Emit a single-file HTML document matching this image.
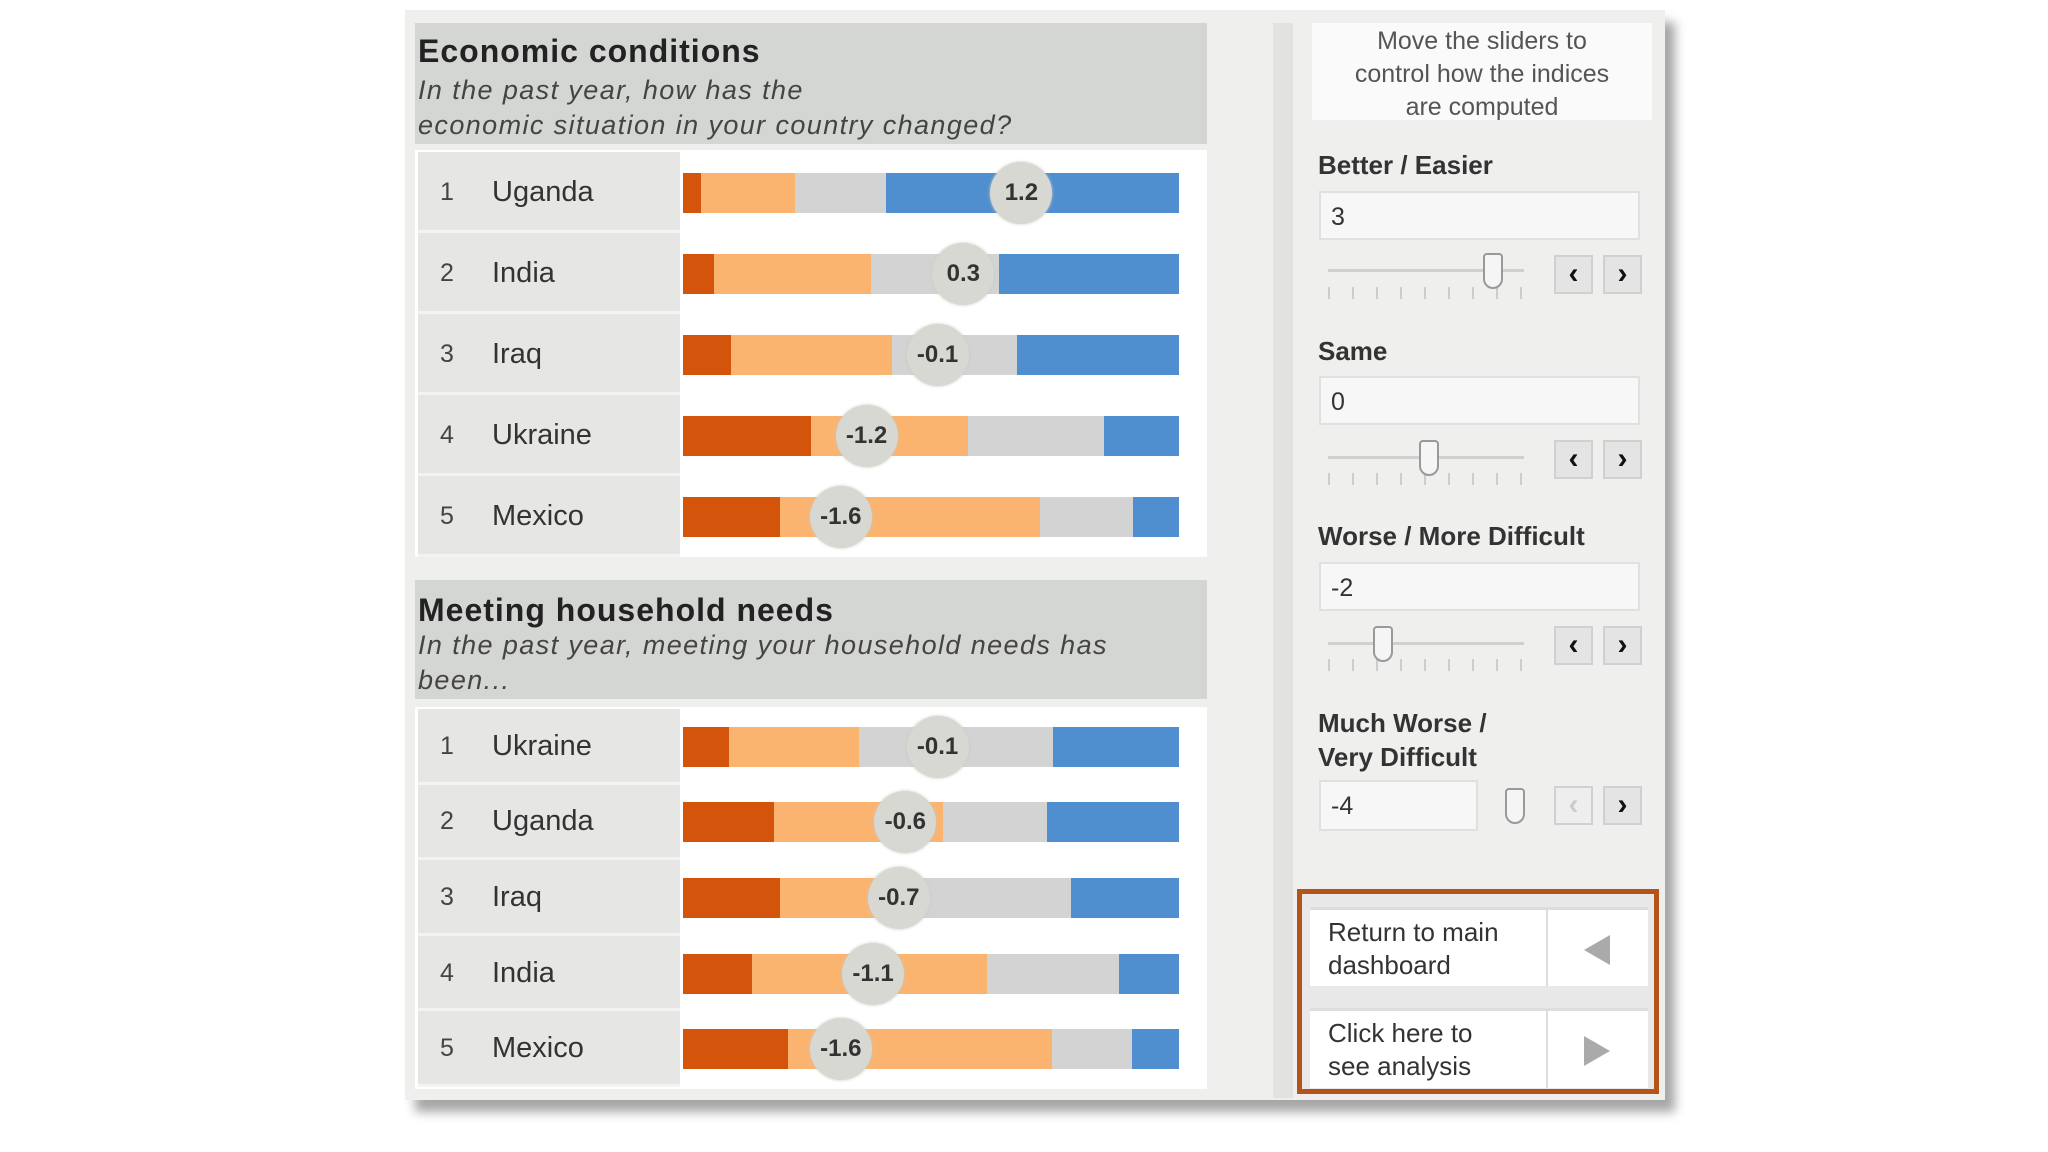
<!DOCTYPE html>
<html><head><meta charset="utf-8"><style>
*{box-sizing:border-box}
body{margin:0;width:2048px;height:1152px;background:#fff;font-family:"Liberation Sans",sans-serif;position:relative;overflow:hidden;color:#333}
.abs{position:absolute}
#panel{left:405px;top:10px;width:1260px;height:1090px;background:#efefee;box-shadow:10px 12px 10px rgba(0,0,0,0.35)}
.hdr{background:#d4d6d3;left:415px;width:792px}
.hdr .t{position:absolute;left:3px;font-weight:bold;font-size:32px;color:#222;letter-spacing:1px}
.hdr .s{position:absolute;left:3px;font-style:italic;font-size:27px;color:#444;line-height:35px;letter-spacing:1.4px}
.rowsbg{background:#fff;left:415px;width:792px}
.lab{left:418px;width:262px;background:#e6e7e4;border-bottom:3px solid #f3f3f2}
.lab .n{position:absolute;left:22px;font-size:25px;color:#444}
.lab .c{position:absolute;left:74px;font-size:29px;color:#333}
.seg{position:absolute}
.circ{position:absolute;width:62px;height:62px;border-radius:50%;background:#d7d8d2;font-weight:bold;font-size:24px;color:#333;text-align:center;line-height:62px;margin-left:-31px;margin-top:-31px;box-shadow:0 0 3px #c8c8c4}
.lbl{position:absolute;left:1318px;font-weight:bold;font-size:26px;color:#333}
.inp{position:absolute;left:1319px;width:321px;height:49px;background:#f7f7f7;border:2px solid #e0e0e0;font-size:25px;padding:10px 10px;color:#333}
.track{position:absolute;left:1328px;width:196px;height:3px;background:#d0d0d0}
.thumb{position:absolute;width:20px;height:36px;border:2px solid #999;border-radius:4px 4px 10px 10px;background:#f5f5f5;margin-left:-10px;margin-top:-18px}
.ticks{position:absolute;left:1328px;width:196px;height:12px;background:repeating-linear-gradient(90deg,#ccc 0 2px,transparent 2px 24px)}
.btn{position:absolute;width:39px;height:39px;background:#e4e4e4;border:2px solid #d0d0d0;font-size:30px;font-weight:bold;text-align:center;line-height:34px;color:#111}
.nav{position:absolute;left:1310px;width:338px;background:#fff;border-top:3px solid #ddd}
.nav .tx{position:absolute;left:18px;top:6px;font-size:26px;line-height:33px;color:#333}
.nav .dv{position:absolute;left:236px;top:0;bottom:0;width:2px;background:#ddd}
</style></head><body>
<div id="panel" class="abs"></div>
<div class="abs" style="left:1273px;top:23px;width:20px;height:1075px;background:#e2e2e0"></div>

<div class="abs hdr" style="top:23px;height:121px">
<div class="t" style="top:10px">Economic conditions</div>
<div class="s" style="top:50px">In the past year, how has the<br>economic situation in your country changed?</div></div>
<div class="abs rowsbg" style="top:150px;height:407px"></div>

<div class="abs hdr" style="top:580px;height:119px">
<div class="t" style="top:12px">Meeting household needs</div>
<div class="s" style="top:48px">In the past year, meeting your household needs has<br>been...</div></div>
<div class="abs rowsbg" style="top:707px;height:382px"></div>

<div id="charts"></div>

<div class="abs" style="left:1312px;top:23px;width:340px;height:97px;background:#fafafa;text-align:center;font-size:25px;line-height:33px;color:#555;padding-top:2px">Move the sliders to<br>control how the indices<br>are computed</div>

<div class="lbl" style="top:150px">Better / Easier</div>
<div class="inp" style="top:191px">3</div>
<div class="track" style="top:269px"></div>
<div class="ticks" style="top:287px"></div>
<div class="thumb" style="left:1493px;top:271px"></div>
<div class="btn" style="left:1554px;top:255px">‹</div>
<div class="btn" style="left:1603px;top:255px">›</div>

<div class="lbl" style="top:336px">Same</div>
<div class="inp" style="top:376px">0</div>
<div class="track" style="top:456px"></div>
<div class="ticks" style="top:473px"></div>
<div class="thumb" style="left:1429px;top:458px"></div>
<div class="btn" style="left:1554px;top:440px">‹</div>
<div class="btn" style="left:1603px;top:440px">›</div>

<div class="lbl" style="top:521px">Worse / More Difficult</div>
<div class="inp" style="top:562px">-2</div>
<div class="track" style="top:642px"></div>
<div class="ticks" style="top:659px"></div>
<div class="thumb" style="left:1383px;top:644px"></div>
<div class="btn" style="left:1554px;top:626px">‹</div>
<div class="btn" style="left:1603px;top:626px">›</div>

<div class="lbl" style="top:706px;line-height:34px">Much Worse /<br>Very Difficult</div>
<div class="inp" style="top:780px;width:159px;height:51px">-4</div>
<div class="thumb" style="left:1515px;top:806px"></div>
<div class="btn" style="left:1554px;top:786px;color:#ccc;background:#eee">‹</div>
<div class="btn" style="left:1603px;top:786px">›</div>

<div class="abs" style="left:1297px;top:889px;width:362px;height:205px;border:5px solid #b5541a;background:#e8e8e8"></div>
<div class="nav" style="top:907px;height:79px">
<div class="tx">Return to main<br>dashboard</div><div class="dv"></div>
<div class="abs" style="left:274px;top:25px;width:0;height:0;border-top:15px solid transparent;border-bottom:15px solid transparent;border-right:26px solid #aaa"></div></div>
<div class="nav" style="top:1008px;height:80px">
<div class="tx">Click here to<br>see analysis</div><div class="dv"></div>
<div class="abs" style="left:274px;top:25px;width:0;height:0;border-top:15px solid transparent;border-bottom:15px solid transparent;border-left:26px solid #aaa"></div></div>

<script>
const econCountries=["Uganda","India","Iraq","Ukraine","Mexico"];
const econIndex=[1.2,0.3,-0.1,-1.2,-1.6];
const econMuchWorse=[3.7,6.3,9.7,25.8,19.5];
const econWorse=[18.9,31.6,32.4,31.6,52.4];
const econSame=[18.4,25.8,25.3,27.4,18.9];
const econBetter=[59.0,36.3,32.6,15.2,9.2];
const hhCountries=["Ukraine","Uganda","Iraq","India","Mexico"];
const hhIndex=[-0.1,-0.6,-0.7,-1.1,-1.6];
const hhMuchWorse=[9.2,18.4,19.5,13.9,21.1];
const hhWorse=[26.3,34.0,19.7,47.4,53.2];
const hhSame=[39.0,21.0,39.0,26.6,16.3];
const hhBetter=[25.5,26.6,21.8,12.1,9.4];
const colors=["#d4540b","#fbb46f","#d3d3d3","#4f8fcf"];
const barX0=683, barW=496;
function xBar(p){return p/100*barW;}
function xIdx(v){return 944+64.5*v;}
const root=document.getElementById('charts');
function draw(prefix,countries,idx,mw,w,s,b,top,rowH){
  countries.forEach((c,i)=>{
    const cy=top+rowH*i+rowH/2;
    const lab=document.createElement('div');
    lab.className='abs lab';
    
    
    lab.style.top=(top+rowH*i)+'px';lab.style.height=rowH+'px';
    lab.innerHTML='<span class="n" style="top:'+(rowH/2-15)+'px">'+(i+1)+'</span><span class="c" style="top:'+(rowH/2-17)+'px">'+c+'</span>';
    root.appendChild(lab);
    let x=barX0;
    [mw[i],w[i],s[i],b[i]].forEach((v,k)=>{
      const seg=document.createElement('div');
      seg.className='seg';
      
      
      const wd=xBar(v);
      seg.style.left=x+'px';seg.style.width=(wd+0.5)+'px';seg.style.top=(cy-20)+'px';seg.style.height='40px';seg.style.background=colors[k];
      root.appendChild(seg);x+=wd;
    });
    const ci=document.createElement('div');
    ci.className='circ';
    
    
    ci.style.left=xIdx(idx[i])+'px';ci.style.top=cy+'px';
    ci.textContent=idx[i].toFixed(1);
    root.appendChild(ci);
  });
}
draw('econ',econCountries,econIndex,econMuchWorse,econWorse,econSame,econBetter,152,81);
draw('household',hhCountries,hhIndex,hhMuchWorse,hhWorse,hhSame,hhBetter,709,75.6);
</script>
</body></html>
